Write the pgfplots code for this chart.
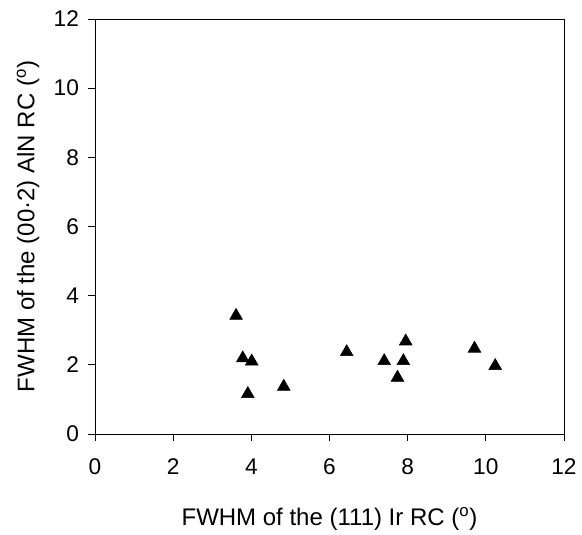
\documentclass[border=0pt]{standalone}
\usepackage{fontspec}
\setmainfont{Liberation Sans}
\usepackage{pgfplots}
\pgfplotsset{compat=1.18}
\begin{document}
\begin{tikzpicture}
\path (-71.25pt,-71.25pt) rectangle (365.25pt,325.5pt);
\begin{axis}[
  at={(0pt,0pt)}, anchor=south west,
  scale only axis,
  width=351.75pt, height=311.25pt,
  xmin=0, xmax=12, ymin=0, ymax=12,
  xtick={0,2,...,12}, ytick={0,2,...,12},
  tick align=outside, major tick length=5pt,
  xtick pos=bottom, ytick pos=left,
  axis line style={line width=0.6pt}, tick style={line width=0.6pt, black},
  /pgf/number format/assume math mode=true,
  ticklabel style={font=\fontsize{17}{20}\selectfont},
  xticklabel style={yshift=-10pt},
  yticklabel style={xshift=-3.5pt},
  label style={font=\fontsize{18}{22}\selectfont},
  xlabel={FWHM of the (111) Ir RC (\textsuperscript{o})},
  ylabel={FWHM of the (00·2) AlN RC (\textsuperscript{o})},
  xlabel style={yshift=-18pt},
  ylabel style={yshift=4pt},
]
\addplot[only marks, mark=triangle*, mark size=5.5pt, black] coordinates {
(3.61,3.42) (3.78,2.19) (4.01,2.10) (3.91,1.16) (4.83,1.37)
(6.44,2.37) (7.40,2.11) (7.95,2.68) (7.89,2.11) (7.74,1.63)
(9.71,2.47) (10.24,1.97)
};
\end{axis}
\end{tikzpicture}
\end{document}
